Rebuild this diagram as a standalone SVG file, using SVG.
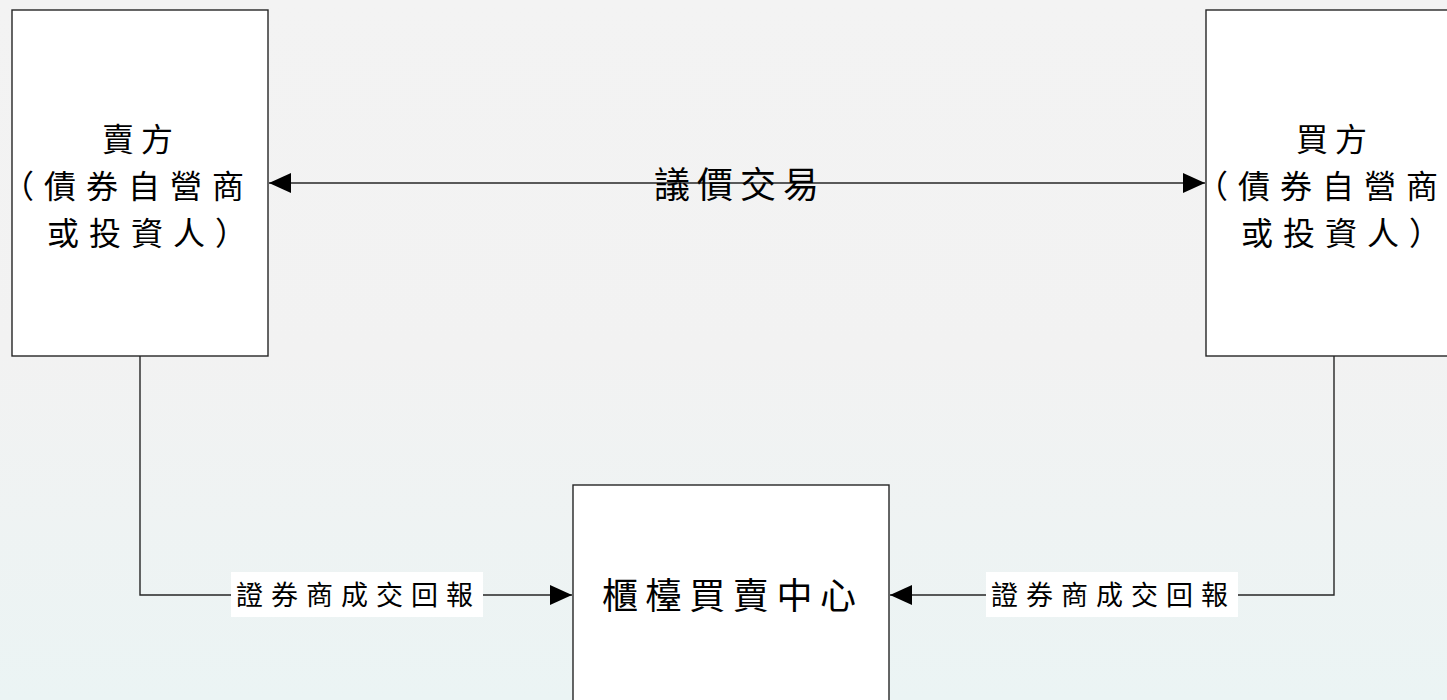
<svg xmlns="http://www.w3.org/2000/svg" width="1447" height="700" viewBox="0 0 1447 700">
<style>
.box{fill:#fff;stroke:#262626;stroke-width:1.4}
.ln{fill:none;stroke:#262626;stroke-width:1.4}
.t{font-family:"Noto Sans CJK TC","Noto Sans CJK SC",sans-serif;font-size:36px;fill:#000}
.bt{font-family:"Noto Sans CJK TC","Noto Sans CJK SC",sans-serif;font-size:32px;fill:#000}
.lb{font-family:"Noto Sans CJK TC","Noto Sans CJK SC",sans-serif;font-size:27px;fill:#000;letter-spacing:8px}
.lbg{fill:#fff}
</style>
<defs>
<linearGradient id="bg" x1="0" y1="0" x2="0" y2="1">
<stop offset="0" stop-color="#f3f3f3"/>
<stop offset="0.5" stop-color="#f2f2f2"/>
<stop offset="1" stop-color="#ebf4f4"/>
</linearGradient>
<marker id="ah" viewBox="0 0 22 20" refX="22" refY="10" markerWidth="22" markerHeight="20" markerUnits="userSpaceOnUse" orient="auto-start-reverse">
<path d="M0,0 L22,10 L0,20 Z" fill="#000"/>
</marker>
</defs>
<rect x="0" y="0" width="1447" height="700" fill="url(#bg)"/>
<g id="connectors">
<line class="ln" x1="269" y1="183" x2="1205" y2="183" marker-start="url(#ah)" marker-end="url(#ah)"/>
<path class="ln" d="M140,356 V595 H572" marker-end="url(#ah)"/>
<path class="ln" d="M1334,356 V595 H890" marker-end="url(#ah)"/>
<text class="t" x="654" y="198" style="letter-spacing:7px">議價交易</text>
<rect class="lbg" x="231" y="572" width="252" height="45"/>
<text class="lb" x="236" y="605">證券商成交回報</text>
<rect class="lbg" x="986" y="572" width="252" height="45"/>
<text class="lb" x="991" y="605">證券商成交回報</text>
</g>
<g id="seller">
<rect class="box" x="12" y="10" width="256" height="346"/>
<text class="bt"><tspan x="102 141" y="151">賣方</tspan><tspan x="2 44 86 128 170 212" y="198">（債券自營商</tspan><tspan x="47 89 131 173 215" y="245">或投資人）</tspan></text>
</g>
<g id="buyer">
<rect class="box" x="1206" y="10" width="256" height="346"/>
<text class="bt"><tspan x="1296 1335" y="151">買方</tspan><tspan x="1196 1238 1280 1322 1364 1406" y="198">（債券自營商</tspan><tspan x="1241 1283 1325 1367 1409" y="245">或投資人）</tspan></text>
</g>
<g id="otc-center">
<rect class="box" x="573" y="485" width="316" height="230"/>
<text class="t" x="602" y="609" style="letter-spacing:7.6px">櫃檯買賣中心</text>
</g>
</svg>
